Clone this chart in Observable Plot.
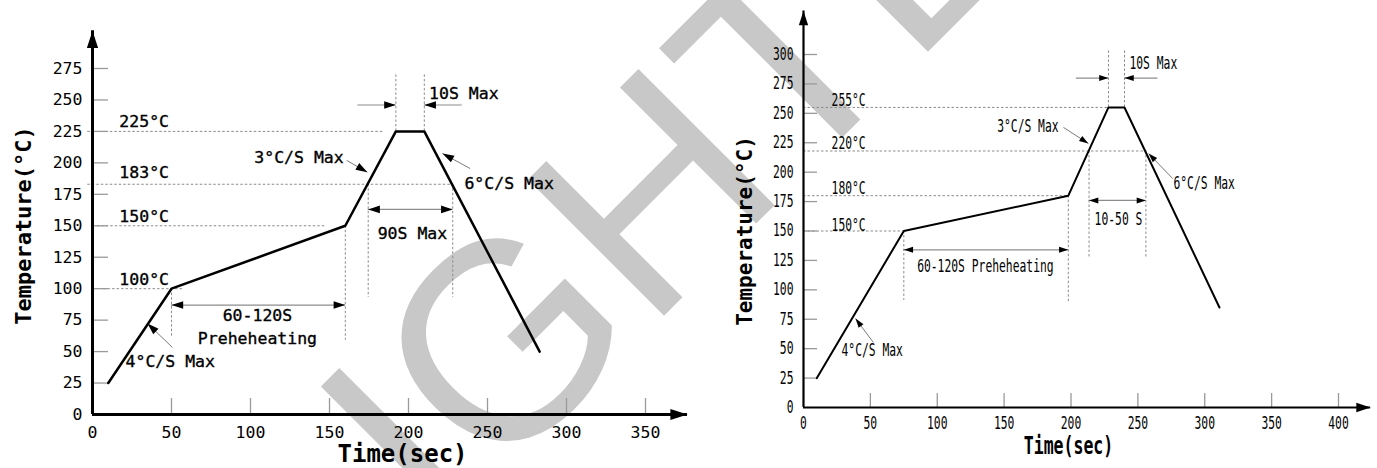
<!DOCTYPE html>
<html><head><meta charset="utf-8">
<script src="https://cdn.jsdelivr.net/npm/d3@7"></script>
<script src="https://cdn.jsdelivr.net/npm/@observablehq/plot@0.6"></script>
<style>
body{margin:0;background:#fff;}
#wrap{position:relative;width:1377px;height:468px;overflow:hidden;background:#fff;}
#wm{position:absolute;left:0;top:0;}
#charts{position:absolute;left:0;top:0;display:flex;}
#charts svg{background:transparent;}
</style></head><body>
<div id="wrap"><svg id="wm" width="1377" height="468"></svg><div id="charts"></div></div>
<script>
// ===== Left profile (Sn-Pb) =====
const leftTime = [10, 50, 160, 192, 210, 283];
const leftTemp = [25, 100, 150, 225, 225, 50];
const leftXTicks = [0, 50, 100, 150, 200, 250, 300, 350];
const leftYTicks = [0, 25, 50, 75, 100, 125, 150, 175, 200, 225, 250, 275];
const leftLevelTemp = [225, 183, 150, 100];
const leftLevelFrom = [-3, -3, 3, 7];
const leftLevelTo = [185, 227, 147, 58];
const leftLevelLabel = ["225°C", "183°C", "150°C", "100°C"];
const leftLevelLabelTemp = [233, 192, 157, 107];
const leftMarkTime = [50, 160, 192, 210, 174.5, 228];
const leftMarkFrom = [100, 150, 225, 225, 183, 183];
const leftMarkTo = [62, 59, 271, 271, 93, 93];
const leftSpanTemp = [87, 163];
const leftSpanFrom = [50, 174.5];
const leftSpanTo = [160, 228];
const leftSpanLabel = [["60-120S", "Preheheating"], ["90S Max"]];
const leftSpanLabelTime = [104.4, 202.5];
const leftSpanLabelTemp = [[78.7, 60.4], [144]];
const leftPeakTemp = 246;
const leftPeakFrom = [168, 234];
const leftPeakTo = [192, 210];
const leftPeakLabel = "10S Max";
const leftPeakLabelAt = [213, 255];
const leftRateLabel = ["3°C/S Max", "6°C/S Max", "4°C/S Max"];
const leftRateAt = [[159, 204, "end"], [235.4, 183.6, "start"], [20.9, 42, "start"]];
const leftRateFrom = [[160.8, 202], [239, 195.5], [50.6, 53.3]];
const leftRateTo = [[174, 192.6], [221.5, 207.5], [34.8, 72.3]];

// ===== Right profile (lead-free) =====
const rightTime = [10, 75, 198, 228, 240, 311];
const rightTemp = [25, 150, 180, 255, 255, 85];
const rightXTicks = [0, 50, 100, 150, 200, 250, 300, 350, 400];
const rightYTicks = [0, 25, 50, 75, 100, 125, 150, 175, 200, 225, 250, 275, 300];
const rightLevelTemp = [255, 218, 180, 150];
const rightLevelFrom = [0, 0, 0, 0];
const rightLevelTo = [228, 256, 198, 75];
const rightLevelLabel = ["255°C", "220°C", "180°C", "150°C"];
const rightLevelLabelTemp = [261, 224, 186, 155];
const rightMarkTime = [75, 198, 228, 240, 213.5, 256];
const rightMarkFrom = [150, 180, 255, 255, 218, 218];
const rightMarkTo = [91, 89, 303, 303, 127.5, 127.5];
const rightSpanTemp = [134, 176];
const rightSpanFrom = [75, 213.5];
const rightSpanTo = [198, 256];
const rightSpanLabel = [["60-120S Preheheating"], ["10-50 S"]];
const rightSpanLabelTime = [136, 235.5];
const rightSpanLabelTemp = [[119.8], [159.8]];
const rightPeakTemp = 280;
const rightPeakFrom = [204, 265];
const rightPeakTo = [228, 240];
const rightPeakLabel = "10S Max";
const rightPeakLabelAt = [243.7, 292.3];
const rightRateLabel = ["3°C/S Max", "6°C/S Max", "4°C/S Max"];
const rightRateAt = [[190.7, 238.8, "end"], [276.6, 190.4, "start"], [28.4, 48.4, "start"]];
const rightRateFrom = [[194.4, 238], [276, 194.6], [52.3, 55.2]];
const rightRateTo = [[213, 224.4], [258, 215.9], [38.9, 75.6]];

const watermarkText = "IGHTE";

// arrowhead symbol: tip at origin, pointing up
const head = {
  draw(ctx, size) {
    const r = Math.sqrt(size / Math.PI);
    const L = 2.2 * r, W = 0.72 * r;
    ctx.moveTo(0, 0);
    ctx.lineTo(W, L);
    ctx.lineTo(-W, L);
    ctx.closePath();
  }
};

function profileChart(o) {
  const kx = (o.width - o.ml - o.mr) / o.xDomain[1];
  const ky = (o.height - o.mt - o.mb) / o.yDomain[1];
  const rot = (x1, y1, x2, y2) => Math.atan2((x2 - x1) * kx, (y2 - y1) * ky) * 180 / Math.PI;
  const profile = o.time.map((t, i) => ({t, v: o.temp[i]}));
  const levels = o.levelTemp.map((v, i) => ({v, a: o.levelFrom[i], b: o.levelTo[i]}));
  const marksV = o.markTime.map((t, i) => ({t, a: o.markFrom[i], b: o.markTo[i]}));
  const spans = o.spanTemp.map((v, i) => ({v, a: o.spanFrom[i], b: o.spanTo[i]}));
  const peaks = o.peakFrom.map((a, i) => ({v: o.peakTemp, a, b: o.peakTo[i]}));
  const heads = [];
  spans.forEach(s => { heads.push({x: s.a, y: s.v, r: -90}, {x: s.b, y: s.v, r: 90}); });
  peaks.forEach(p => { heads.push({x: p.b, y: p.v, r: rot(p.a, p.v, p.b, p.v)}); });
  const leaders = o.rateFrom.map((f, i) => ({x1: f[0], y1: f[1], x2: o.rateTo[i][0], y2: o.rateTo[i][1]}));
  const leaderHeads = leaders.map(l => ({x: l.x2, y: l.y2, r: rot(l.x1, l.y1, l.x2, l.y2)}));
  const levelLabels = o.levelLabel.map((s, i) => ({s, v: o.levelLabelTemp[i]}));
  const spanLabels = [];
  o.spanLabel.forEach((lines, i) => lines.forEach((s, j) => spanLabels.push({s, t: o.spanLabelTime[i], v: o.spanLabelTemp[i][j]})));
  const rates = o.rateLabel.map((s, i) => ({s, x: o.rateAt[i][0], y: o.rateAt[i][1], anchor: o.rateAt[i][2]}));
  const txt = {fontFamily: o.font, fontSize: o.fs, fill: "#000"};
  if (o.textStroke) Object.assign(txt, {stroke: "#000", strokeWidth: o.textStroke});
  return Plot.plot({
    width: o.width, height: o.height,
    marginLeft: o.ml, marginRight: o.mr, marginTop: o.mt, marginBottom: o.mb,
    x: {domain: o.xDomain}, y: {domain: o.yDomain},
    style: {background: "transparent", fontFamily: o.font, fontSize: o.fs + "px", color: "#000", overflow: "visible"},
    marks: [
      Plot.ruleY(levels, {y: "v", x1: "a", x2: "b", stroke: "#8c8c8c", strokeWidth: 1, strokeDasharray: "2.5,2"}),
      Plot.ruleX(marksV, {x: "t", y1: "a", y2: "b", stroke: "#8c8c8c", strokeWidth: 1, strokeDasharray: "2.5,2"}),
      Plot.ruleY(o.yTicks.filter(d => d > 0), {y: d => d, x1: 0, x2: o.tickX, stroke: "#9a9a9a", strokeWidth: 1.3}),
      Plot.ruleX(o.xTicks.filter(d => d > 0), {x: d => d, y1: 0, y2: o.tickY, stroke: "#9a9a9a", strokeWidth: 1.3}),
      Plot.ruleY(spans, {y: "v", x1: "a", x2: "b", stroke: "#8c8c8c", strokeWidth: 1.2}),
      Plot.ruleY(peaks, {y: "v", x1: "a", x2: "b", stroke: "#8c8c8c", strokeWidth: 1.2}),
      Plot.link(leaders, {x1: "x1", y1: "y1", x2: "x2", y2: "y2", stroke: "#7a7a7a", strokeWidth: 1}),
      Plot.dot(heads, {x: "x", y: "y", rotate: "r", symbol: head, r: o.smallHead, fill: "#000", stroke: "none"}),
      Plot.dot(leaderHeads, {x: "x", y: "y", rotate: "r", symbol: head, r: o.smallHead, fill: "#000", stroke: "none"}),
      Plot.ruleY([0], {x1: 0, x2: o.xEnd, stroke: "#000", strokeWidth: o.axisW}),
      Plot.ruleX([0], {y1: 0, y2: o.yEnd, stroke: "#000", strokeWidth: o.axisW}),
      Plot.dot([{x: o.xEnd, y: 0, r: 90}, {x: 0, y: o.yEnd, r: 0}], {x: "x", y: "y", rotate: "r", symbol: head, r: o.axisHead, fill: "#000", stroke: "none"}),
      Plot.line(profile, {x: "t", y: "v", stroke: "#000", strokeWidth: o.lineW, strokeLinejoin: "miter"}),
      Plot.axisX({ticks: o.xTicks, tickSize: 0, tickPadding: o.xPad, label: null, ...txt}),
      Plot.axisY({ticks: o.yTicks, tickSize: 0, tickPadding: o.yPad, label: null, ...txt}),
      Plot.text(levelLabels, {x: o.levelLabelX, y: "v", text: "s", textAnchor: "start", ...txt}),
      Plot.text(spanLabels, {x: "t", y: "v", text: "s", textAnchor: "middle", ...txt}),
      Plot.text([o.peakLabel], {x: o.peakLabelAt[0], y: o.peakLabelAt[1], text: d => d, textAnchor: "start", ...txt}),
      Plot.text(rates.filter(d => d.anchor === "end"), {x: "x", y: "y", text: "s", textAnchor: "end", ...txt}),
      Plot.text(rates.filter(d => d.anchor === "start"), {x: "x", y: "y", text: "s", textAnchor: "start", ...txt}),
      Plot.text([o.xTitle], {frameAnchor: "bottom", dx: o.xTitleDx, dy: o.xTitleDy, text: d => d, textAnchor: "middle", lineAnchor: "middle", fontFamily: o.titleFontX, fontSize: o.xTitleFs, fontWeight: "bold", fill: "#000"}),
      Plot.text([o.yTitle], {frameAnchor: "left", rotate: -90, dx: o.yTitleDx, dy: o.yTitleDy, text: d => d, textAnchor: "middle", lineAnchor: "middle", fontFamily: o.titleFontY, fontSize: o.yTitleFs, fontWeight: "bold", fill: "#000"})
    ]
  });
}

const mono = "'DejaVu Sans Mono', monospace";

const left = profileChart({
  width: 690, height: 468, ml: 92, mr: 45, mt: 68, mb: 54,
  xDomain: [0, 350], yDomain: [0, 275],
  time: leftTime, temp: leftTemp, xTicks: leftXTicks, yTicks: leftYTicks,
  levelTemp: leftLevelTemp, levelFrom: leftLevelFrom, levelTo: leftLevelTo,
  levelLabel: leftLevelLabel, levelLabelTemp: leftLevelLabelTemp, levelLabelX: 17,
  markTime: leftMarkTime, markFrom: leftMarkFrom, markTo: leftMarkTo,
  spanTemp: leftSpanTemp, spanFrom: leftSpanFrom, spanTo: leftSpanTo,
  spanLabel: leftSpanLabel, spanLabelTime: leftSpanLabelTime, spanLabelTemp: leftSpanLabelTemp,
  peakTemp: leftPeakTemp, peakFrom: leftPeakFrom, peakTo: leftPeakTo,
  peakLabel: leftPeakLabel, peakLabelAt: leftPeakLabelAt,
  rateLabel: leftRateLabel, rateAt: leftRateAt, rateFrom: leftRateFrom, rateTo: leftRateTo,
  xEnd: 376.6, yEnd: 305, tickX: 10.1, tickY: 12.7,
  font: mono, fs: 16.5, xPad: 12, yPad: 10, textStroke: 0.35,
  axisW: 3, lineW: 2.5, axisHead: 7.8, smallHead: 5.3,
  xTitle: "Time(sec)", xTitleDx: 33.5, xTitleDy: 40, xTitleFs: 24, titleFontX: mono,
  yTitle: "Temperature(°C)", yTitleDx: -69, yTitleDy: -16, yTitleFs: 22, titleFontY: mono
});

const right = profileChart({
  width: 687, height: 468, ml: 113, mr: 39, mt: 54, mb: 61,
  xDomain: [0, 400], yDomain: [0, 300],
  time: rightTime, temp: rightTemp, xTicks: rightXTicks, yTicks: rightYTicks,
  levelTemp: rightLevelTemp, levelFrom: rightLevelFrom, levelTo: rightLevelTo,
  levelLabel: rightLevelLabel, levelLabelTemp: rightLevelLabelTemp, levelLabelX: 21,
  markTime: rightMarkTime, markFrom: rightMarkFrom, markTo: rightMarkTo,
  spanTemp: rightSpanTemp, spanFrom: rightSpanFrom, spanTo: rightSpanTo,
  spanLabel: rightSpanLabel, spanLabelTime: rightSpanLabelTime, spanLabelTemp: rightSpanLabelTemp,
  peakTemp: rightPeakTemp, peakFrom: rightPeakFrom, peakTo: rightPeakTo,
  peakLabel: rightPeakLabel, peakLabelAt: rightPeakLabelAt,
  rateLabel: rightRateLabel, rateAt: rightRateAt, rateFrom: rightRateFrom, rateTo: rightRateTo,
  xEnd: 424, yEnd: 337, tickX: 10.5, tickY: 11.9,
  font: mono, fs: 17, xPad: 9, yPad: 10,
  axisW: 2.2, lineW: 2, axisHead: 6.5, smallHead: 4.2,
  xTitle: "Time(sec)", xTitleDx: -2.5, xTitleDy: 38, xTitleFs: 25, titleFontX: mono,
  yTitle: "Temperature(°C)", yTitleDx: -58, yTitleDy: 0, yTitleFs: 21, titleFontY: mono
});

document.getElementById("charts").append(left, right);

// the right-hand drawing uses a horizontally condensed face
right.querySelectorAll("text").forEach(t => {
  const s = t.textContent;
  if (s.startsWith("Temperature")) return;
  const f = s === "Time(sec)" ? 0.66 : 0.667;
  const L = t.getComputedTextLength();
  t.setAttribute("textLength", (L * f).toFixed(1));
  t.setAttribute("lengthAdjust", "spacingAndGlyphs");
});

// faint watermark behind the charts
d3.select("#wm").append("text")
  .attr("transform", "translate(438.8,541) rotate(-45)")
  .attr("font-family", "'Liberation Sans', Arial, sans-serif")
  .attr("font-size", 280)
  .attr("fill", "#c8c8c8")
  .text(watermarkText);
</script>
</body></html>
